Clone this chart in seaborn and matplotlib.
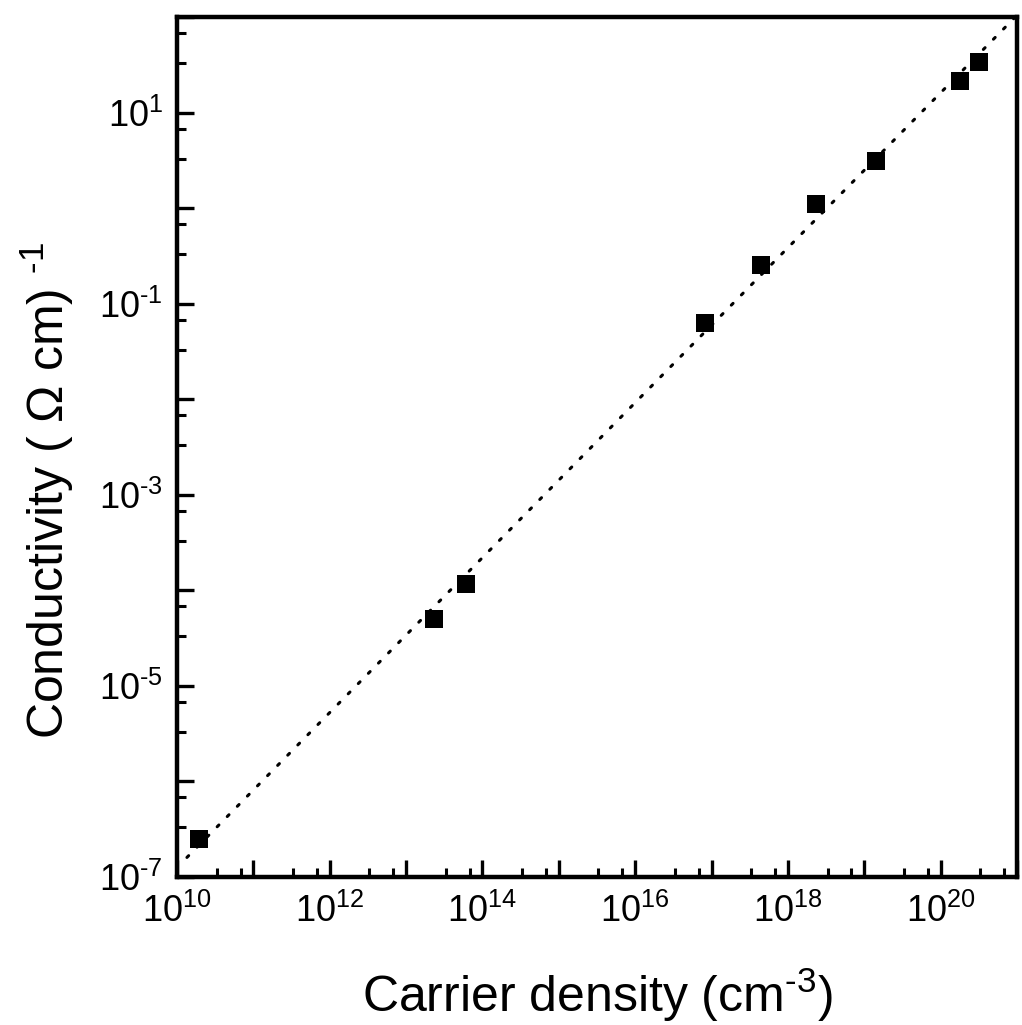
import numpy as np
import pandas as pd
import matplotlib
matplotlib.use("Agg")
import matplotlib.pyplot as plt
import matplotlib.ticker as mticker
import seaborn as sns

# ---- data ----
carrier_density = [10**10.29, 10**13.37, 10**13.78, 10**16.91, 10**17.65,
                   10**18.37, 10**19.15, 10**20.25, 10**20.50]
conductivity = [10**-6.60, 10**-4.30, 10**-3.93, 10**-1.20, 10**-0.60,
                10**0.04, 10**0.49, 10**1.33, 10**1.53]
fit_range = [10**10.13, 10**21.0]
x_limits = [1e10, 1e21]
y_limits = [1e-7, 1e2]
x_label_exponents = [10, 12, 14, 16, 18, 20]
y_label_exponents = [-7, -5, -3, -1, 1]

df = pd.DataFrame({"n": carrier_density, "sigma": conductivity})

# least-squares fit in log-log space
slope, intercept = np.polyfit(np.log10(df["n"]), np.log10(df["sigma"]), 1)
fx = np.logspace(np.log10(fit_range[0]), np.log10(fit_range[1]), 200)
fy = 10 ** (intercept + slope * np.log10(fx))
fit_df = pd.DataFrame({"n": fx, "sigma": fy})

sns.set_style("ticks")
plt.rcParams["font.family"] = ["Liberation Sans", "DejaVu Sans"]
plt.rcParams["mathtext.fontset"] = "custom"
plt.rcParams["mathtext.rm"] = "Liberation Sans"
plt.rcParams["mathtext.it"] = "Liberation Sans:italic"
plt.rcParams["mathtext.bf"] = "Liberation Sans:bold"
plt.rcParams["text.color"] = "black"
plt.rcParams["axes.labelcolor"] = "black"

fig = plt.figure(figsize=(10.22, 10.25), dpi=100)
ax = fig.add_axes([0.1732, 0.1444, 0.8219, 0.839])

sns.lineplot(data=fit_df, x="n", y="sigma", ax=ax, color="black",
             linewidth=2.2, linestyle=(0, (0.8, 3.9)), dash_capstyle="round",
             zorder=2, legend=False)
sns.scatterplot(data=df, x="n", y="sigma", ax=ax, marker="s", s=175,
                color="black", edgecolor="black", linewidth=0, zorder=3,
                legend=False)

ax.set_xscale("log")
ax.set_yscale("log")
ax.set_xlim(*x_limits)
ax.set_ylim(*y_limits)

def decade_formatter(labelled):
    def fmt(v, pos):
        e = int(round(np.log10(v)))
        if e in labelled:
            return r"$\mathregular{10^{\text{%d}}}$" % e
        return ""
    return mticker.FuncFormatter(fmt)

ax.xaxis.set_major_locator(mticker.LogLocator(base=10, numticks=40))
ax.yaxis.set_major_locator(mticker.LogLocator(base=10, numticks=40))
ax.xaxis.set_major_formatter(decade_formatter(x_label_exponents))
ax.yaxis.set_major_formatter(decade_formatter(y_label_exponents))
subs = (3.3, 6.8)
ax.xaxis.set_minor_locator(mticker.LogLocator(base=10, subs=subs, numticks=40))
ax.yaxis.set_minor_locator(mticker.LogLocator(base=10, subs=subs, numticks=40))
ax.xaxis.set_minor_formatter(mticker.NullFormatter())
ax.yaxis.set_minor_formatter(mticker.NullFormatter())

ax.tick_params(which="major", direction="in", length=12, width=2.4,
               labelsize=26, pad=12, colors="black")
ax.tick_params(axis="y", which="major", pad=10)
ax.tick_params(which="minor", direction="in", length=6.5, width=2.2,
               colors="black")
for s in ax.spines.values():
    s.set_visible(True)
    s.set_linewidth(3.2)
    s.set_color("black")

ax.set_xlabel(r"Carrier density (cm$^{\text{-3}}$)", fontsize=36,
              labelpad=26)
ax.set_ylabel(r"Conductivity ( Ω cm) $^{\text{-1}}$", fontsize=36,
              labelpad=12)
ax.yaxis.set_label_coords(-0.12, 0.45)

fig.savefig("out.png", dpi=100, facecolor="white")
